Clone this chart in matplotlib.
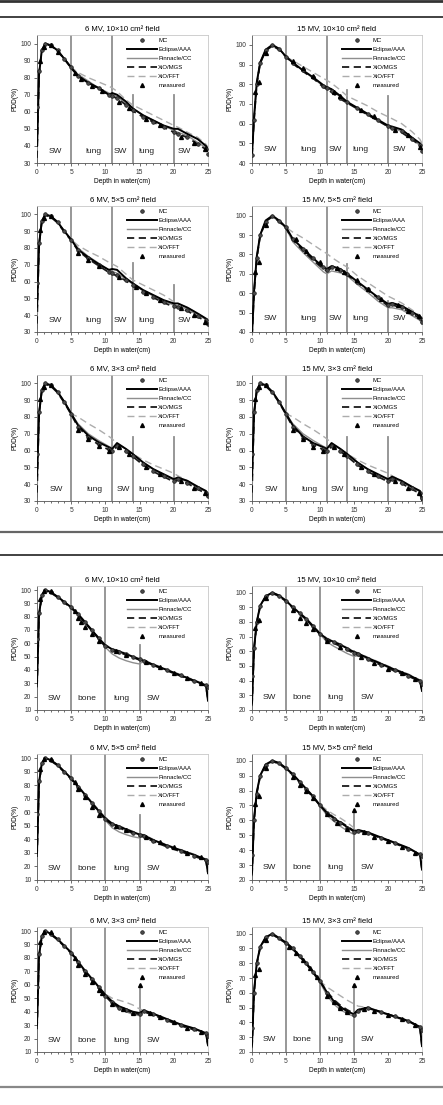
"""PDD curves in heterogeneous slab phantoms: MC vs. TPS algorithms."""

import matplotlib

matplotlib.use("Agg", force=True)
import matplotlib.pyplot as plt
from matplotlib.lines import Line2D
from matplotlib.ticker import MultipleLocator

plt.rcParams["font.family"] = ["Liberation Sans", "DejaVu Sans"]

W, H = 443, 1105

# depth grids (cm)
DEPTH_A = [0, 0.3, 0.7, 1.2, 2, 3, 4, 5, 6, 7.5, 9, 10.5, 11, 11.7, 13, 14,
           15.5, 17, 18.5, 20, 20.6, 22, 23.5, 24.7, 25]
DEPTH_B = [0, 0.3, 0.7, 1.2, 2, 3, 4, 5, 6, 7, 8, 9, 10, 11, 12, 13, 14, 15,
           15.6, 17, 19, 21, 23, 24.7, 25]

# ---- SW / lung / SW / lung / SW phantom ----
P1_MC = [63, 84, 96, 100, 99, 96, 91, 86, 81, 77, 74, 70, 69, 68, 64, 61, 57, 54, 51, 48, 47, 45, 41, 38, 35]
P1_AAA = [40, 82, 96, 100, 99, 96, 91, 86, 81, 77, 74, 70, 71, 70, 66, 62, 58, 55, 52, 50, 50, 47, 44, 40, 38]
P1_CC = [35, 83, 96, 100, 99, 96, 91, 86, 82, 78, 74, 71, 70, 69, 65, 62, 58, 55, 52, 49, 48, 46, 42, 39, 37]
P1_MGS = [33, 82, 96, 99.5, 99, 95.5, 91, 85.5, 81, 77, 73.5, 70, 69, 68, 64, 60.5, 57, 54, 51, 48, 47, 45, 41, 38, 34]
P1_FFT = [30, 82, 96, 100, 99, 96, 91, 86, 83, 80, 77.5, 75, 74, 72, 67, 64, 61, 58, 55, 52, 51, 48, 45, 41, 39]
P1_MEAS_X = [0.5, 1, 2, 3, 5.5, 6.5, 8, 9.5, 12, 13.5, 16, 18, 21, 23, 24.5]
P1_MEAS_Y = [90, 98, 99, 95, 83, 79, 75, 72, 66, 62, 56, 52, 45, 42, 38]

P2_MC = [44, 62, 80, 91, 97.5, 100, 98, 94, 91, 87, 83.5, 79, 78, 76.5, 73, 71, 68, 65, 62, 59, 58, 56, 52, 49, 46]
P2_AAA = [44, 63, 81, 91, 97.5, 100, 98, 94, 91, 87, 83.5, 79.5, 78.5, 77.5, 74, 71, 68, 65, 62, 59, 58.5, 57, 53, 50, 48]
P2_CC = [45, 63, 80, 91, 97, 99.5, 98, 94, 91, 87, 83, 79, 78, 77, 73.5, 71, 67.5, 64.5, 61.5, 58.5, 58, 56, 52, 49, 46]
P2_MGS = [44, 62, 80, 90.5, 97, 99.5, 97.5, 94, 90.5, 86.5, 83, 78.5, 77.5, 76, 72.5, 70.5, 67.5, 64.5, 61.5, 58.5, 57.5, 55.5, 52, 49, 47]
P2_FFT = [44, 62, 80, 91, 97.5, 100, 98, 94, 92, 89, 86, 83, 82, 80.5, 77, 74, 71.5, 69, 66, 63.5, 62.5, 60, 56, 52, 50]
P2_MEAS_X = [0.5, 1, 2, 6, 7.5, 9, 12, 13, 16, 18, 21, 23, 24.7]
P2_MEAS_Y = [76, 81, 96, 92, 88, 84, 76, 74, 67, 64, 57, 54, 48]

P3_MC = [59, 83, 96, 100, 99, 95.5, 90, 85, 79, 74, 70, 66, 65, 64, 61, 58, 54, 51, 48, 45.5, 45, 43, 39.5, 37, 35]
P3_AAA = [45, 82, 96, 100, 99, 95.5, 90, 85, 79, 74.5, 70.5, 67, 67.5, 67, 62, 59, 55, 52, 49, 47, 47, 44.5, 41, 38, 37]
P3_CC = [40, 82, 96, 100, 99, 95.5, 90, 85, 80, 75, 71, 67, 66, 65, 61.5, 58.5, 54.5, 51.5, 48.5, 46, 45.5, 43.5, 40, 37.5, 36]
P3_MGS = [35, 82, 95.5, 99.5, 98.5, 95, 89.5, 84.5, 78.5, 73.5, 69.5, 65.5, 64.5, 63.5, 60.5, 57.5, 53.5, 50.5, 47.5, 45, 44.5, 42.5, 39, 36.5, 34]
P3_FFT = [32, 82, 96, 100, 99, 95.5, 90, 85, 81.5, 78, 75, 71.5, 70.5, 69, 64.5, 61, 58, 55, 52, 48, 47, 44.5, 41, 38, 37]
P3_MEAS_X = [0.5, 1, 2, 6, 7.5, 9, 12, 14.5, 16, 18, 21, 23, 24.5]
P3_MEAS_Y = [91, 98, 99, 77, 73, 69, 63, 57, 53, 49, 44, 40, 36]

P4_MC = [38, 60, 78, 90, 97, 100, 97.5, 94, 88, 83, 78, 73.5, 72, 73.5, 72, 70, 66, 62, 58, 54, 54.5, 53, 50, 47, 45]
P4_AAA = [38, 61, 79, 90, 97.5, 100, 97.5, 94, 88, 83, 78, 73.5, 72.5, 74, 72.5, 70, 66, 62, 58, 54.5, 55, 53.5, 50.5, 48, 46]
P4_CC = [39, 61, 78, 90, 97, 99.5, 97, 93.5, 86.5, 81, 76, 71, 70, 71.5, 70.5, 69, 64.5, 60.5, 56, 52.5, 52.5, 51.5, 48.5, 46, 44]
P4_MGS = [38, 60, 78, 89.5, 97, 99.5, 97, 93.5, 87.5, 82, 77, 72.5, 71.5, 73, 71.5, 69.5, 65.5, 61.5, 57.5, 53.5, 54, 52.5, 49.5, 47, 45]
P4_FFT = [38, 60, 78, 90, 97, 100, 97.5, 94, 91.5, 88.5, 85, 81.5, 80.5, 78.5, 75.5, 73.5, 69, 65.5, 62, 58.5, 57.5, 55, 51.5, 48.5, 46]
P4_MEAS_X = [0.5, 1, 2, 6.5, 8, 10, 12.5, 13.5, 15.5, 17, 19, 21.5, 23, 24.5]
P4_MEAS_Y = [71, 76, 95, 88, 82, 76, 73, 71, 67, 62, 57, 54, 51, 48]

P5_MC = [58, 83, 96, 100, 99, 95, 89, 82, 74, 68, 64, 61, 60, 63, 60, 57, 52, 48, 45, 42, 43, 41, 37.5, 35, 33]
P5_AAA = [45, 82, 96, 100, 99, 95, 89, 82, 75, 69, 65, 62, 61, 64.5, 61, 58, 53, 49, 46, 43, 44, 42, 38.5, 36, 34]
P5_CC = [40, 82, 96, 100, 99, 95, 89, 82, 76, 70, 66, 62.5, 61.5, 64, 61, 58, 53, 49, 45.5, 42.5, 43.5, 41.5, 38, 35.5, 33]
P5_MGS = [35, 82, 95.5, 99.5, 98.5, 94.5, 88.5, 81.5, 74, 68, 63.5, 60.5, 59.5, 62.5, 59.5, 56.5, 51.5, 47.5, 44.5, 41.5, 42.5, 40.5, 37, 34.5, 32]
P5_FFT = [32, 82, 96, 100, 99, 95, 89, 82, 80, 76, 72.5, 68.5, 67, 64, 60.5, 58, 54.5, 51.5, 49, 46.5, 45, 42, 38.5, 35.5, 34]
P5_MEAS_X = [0.5, 1, 2, 6, 7.5, 9, 10.5, 12, 13.5, 16, 18, 21, 23, 24.5]
P5_MEAS_Y = [91, 98, 99, 72, 67, 63, 60, 62, 58, 50, 46, 42, 38, 35]

P6_MC = [58, 83, 96, 100, 99, 95, 89, 82, 74, 67.5, 63.5, 61, 59.5, 63, 60, 57, 52, 48, 45, 42, 43, 41, 37.5, 35, 32]
P6_AAA = [45, 82, 96, 100, 99, 95, 89, 82, 75, 68.5, 64.5, 62, 61, 64.5, 61, 58, 53, 49, 46, 43, 44.5, 42, 38.5, 36, 33]
P6_CC = [40, 82, 96, 100, 99, 95, 89, 82, 76, 70, 66, 62.5, 61.5, 64, 61, 58, 53, 49, 45.5, 42.5, 43.5, 41.5, 38, 35.5, 33]
P6_MGS = [35, 82, 95.5, 99.5, 98.5, 94.5, 88.5, 81.5, 74, 68, 63.5, 60.5, 59.5, 62.5, 59.5, 56.5, 51.5, 47.5, 44.5, 41.5, 42.5, 40.5, 37, 34.5, 30]
P6_FFT = [32, 82, 96, 100, 99, 95, 89, 82, 80, 76, 72.5, 68.5, 67, 64.5, 60.5, 58, 54.5, 51.5, 49, 46.5, 45, 42, 38.5, 35.5, 34]
P6_MEAS_X = [0.5, 1, 2, 6, 7.5, 9, 10.5, 12, 13.5, 16, 18, 21, 23, 24.5]
P6_MEAS_Y = [91, 98, 99, 72, 67, 62, 60, 62, 58, 50, 46, 42, 38, 35]

# ---- SW / bone / lung / SW phantom ----
P7_MC = [63, 83, 96, 100, 98.5, 95, 91, 87, 82, 76, 70, 64, 58, 55, 53.5, 52, 50, 48, 47, 44, 40, 36, 32, 29, 27]
P7_AAA = [30, 82, 96, 100, 98.5, 95, 91, 87, 82, 76, 70, 64, 58.5, 55.5, 54, 52, 50, 48, 47, 44, 40, 36, 32, 28.5, 17]
P7_CC = [28, 82, 96, 100, 98.5, 95, 91, 87, 82, 76, 70, 64, 57, 52, 49, 47, 45.5, 44.5, 47, 44, 40, 36, 32, 28.5, 20]
P7_MGS = [27, 81, 95.5, 99.5, 98, 94.5, 90.5, 86.5, 81.5, 75.5, 69.5, 63.5, 57.5, 54.5, 53, 51.5, 49.5, 47.5, 46.5, 43.5, 39.5, 35.5, 31.5, 28, 18]
P7_FFT = [27, 82, 96, 100, 98.5, 95, 91, 87, 82, 76.5, 70.5, 64.5, 59, 56, 54.5, 52.5, 50.5, 48.5, 47.5, 44.5, 40.5, 36.5, 32.5, 29, 19]
P7_MEAS_X = [0.5, 1, 2, 5.5, 6, 6.5, 7, 8, 9, 11.5, 13, 16, 18, 20, 22, 24]
P7_MEAS_Y = [93, 99, 99, 84, 79, 76, 72, 67, 62, 54, 51, 46, 42, 38, 34, 30]

P8_MC = [43, 62, 80, 91, 97.5, 100, 98, 94.5, 90, 86, 82, 77, 72, 68, 66, 64, 61.5, 59, 58, 55, 51, 47, 43.5, 40, 38]
P8_AAA = [25, 62, 80, 91, 97.5, 100, 98, 94.5, 90, 86, 82, 77, 72, 68.5, 66.5, 64.5, 62, 59.5, 58.5, 55.5, 51.5, 47.5, 44, 40, 33]
P8_CC = [24, 62, 80, 91, 97.5, 100, 98, 94.5, 90, 86, 82, 77, 71.5, 66.5, 63.5, 61, 58.5, 56.5, 57, 55, 51, 47, 43.5, 39.5, 34]
P8_MGS = [23, 61, 79.5, 90.5, 97, 99.5, 97.5, 94, 89.5, 85.5, 81.5, 76.5, 71.5, 67.5, 65.5, 63.5, 61, 58.5, 57.5, 54.5, 50.5, 46.5, 43, 39.5, 34]
P8_FFT = [22, 62, 80, 91, 97.5, 100, 98, 94.5, 90.5, 86.5, 82.5, 77.5, 72.5, 69, 67, 65, 62.5, 60, 59, 56, 52, 48, 44.5, 40.5, 35]
P8_MEAS_X = [0.5, 1, 2, 6, 7, 8, 9, 11, 13, 16, 18, 20, 22, 24]
P8_MEAS_Y = [76, 81, 96, 88, 83, 79, 75, 67, 63, 56, 52, 48, 45, 41]

P9_MC = [59, 83, 96, 100, 98.5, 95, 90, 85, 79, 73, 67, 61, 55, 51, 49, 47, 45, 43, 42.5, 39, 35, 31.5, 28, 25, 23]
P9_AAA = [30, 82, 96, 100, 98.5, 95, 90, 85, 79, 73, 67, 61, 55.5, 51.5, 49.5, 47.5, 45.5, 43.5, 43, 39.5, 35.5, 32, 28.5, 25, 15]
P9_CC = [28, 82, 96, 100, 98.5, 95, 90, 85, 79.5, 73.5, 67.5, 61.5, 54, 48.5, 45.5, 43.5, 42, 41, 43, 39.5, 35.5, 32, 28.5, 25, 16]
P9_MGS = [27, 81, 95.5, 99.5, 98, 94.5, 89.5, 84.5, 78.5, 72.5, 66.5, 60.5, 54.5, 50.5, 48.5, 46.5, 44.5, 42.5, 42, 38.5, 34.5, 31, 27.5, 24.5, 15]
P9_FFT = [27, 82, 96, 100, 98.5, 95, 90, 85, 79.5, 73.5, 67.5, 62, 56, 52, 50, 48, 46, 44, 43.5, 40, 36, 32.5, 29, 25.5, 16]
P9_MEAS_X = [0.5, 1, 2, 5.5, 6, 7, 8, 9, 11.5, 13, 16, 18, 20, 22, 24]
P9_MEAS_Y = [92, 99, 99, 82, 77, 71, 64, 58, 50, 47, 42, 38, 34, 30, 27]

P10_MC = [37, 60, 78, 90, 97, 100, 98.5, 95, 91, 86, 81, 76, 70, 65, 61, 58, 55, 52, 53, 51.5, 48, 44.5, 41, 37.5, 36]
P10_AAA = [25, 61, 79, 90, 97.5, 100, 98.5, 95, 91, 86, 81, 76, 70, 65, 61.5, 58.5, 55.5, 52.5, 53.5, 52, 48.5, 45, 41.5, 37, 27]
P10_CC = [24, 60, 78, 90, 97, 99.5, 98, 94.5, 90.5, 85.5, 80.5, 75.5, 69.5, 63.5, 59.5, 56, 53, 50.5, 52.5, 51.5, 48, 44.5, 41, 37, 28]
P10_MGS = [23, 60, 78, 89.5, 97, 99.5, 98, 94.5, 90.5, 85.5, 80.5, 75.5, 70, 65.5, 62, 59, 56, 53, 53.5, 51.5, 48, 44.5, 41, 37, 27]
P10_FFT = [22, 60, 78, 90, 97, 100, 98.5, 95, 91, 86, 81, 76, 70.5, 67, 64, 61.5, 58.5, 55, 54, 52, 48.5, 45, 41.5, 37.5, 28]
P10_MEAS_X = [0.5, 1, 2, 6, 7, 8, 9, 11, 12.5, 14, 15, 16.5, 18, 20, 22, 24]
P10_MEAS_Y = [71, 76, 95, 89, 84, 80, 75, 64, 58, 54, 67, 52, 49, 46, 42, 38]

P11_MC = [58, 83, 96, 100, 98, 94, 89, 84, 77, 70, 64, 58, 52, 47, 43, 41, 39, 38, 40.5, 38, 34, 30, 27, 24, 22]
P11_AAA = [30, 82, 96, 100, 98, 94, 89, 84, 77, 70.5, 64.5, 58.5, 52.5, 47.5, 44, 42, 40, 39, 41, 38.5, 34.5, 30.5, 27.5, 24, 15]
P11_CC = [28, 82, 96, 100, 98, 94, 89, 84, 77.5, 71, 65, 59, 52, 46, 42, 40, 38, 37, 40, 38, 34, 30, 27, 23.5, 16]
P11_MGS = [27, 81, 95.5, 99.5, 97.5, 93.5, 88.5, 83.5, 76.5, 69.5, 63.5, 57.5, 51.5, 46.5, 43, 41, 39, 38, 40, 37.5, 33.5, 29.5, 26.5, 23.5, 15]
P11_FFT = [27, 82, 96, 100, 98, 94, 89, 84, 77.5, 71, 65, 59, 53, 50, 48.5, 47, 45, 42, 41, 38.5, 34.5, 30.5, 27.5, 24, 16]
P11_MEAS_X = [0.5, 1, 2, 5.5, 6, 7, 8, 9, 9.5, 11, 12.5, 14, 15, 16.5, 18, 20, 22, 24]
P11_MEAS_Y = [92, 99, 99, 80, 75, 68, 62, 56, 54, 46, 42, 39, 60, 39, 36, 32, 28, 25]

P12_MC = [36, 60, 80, 91, 97.5, 100, 97, 94, 90, 85, 80, 74, 68, 60, 54, 50, 47, 45, 48, 50, 47, 44, 41, 37, 35]
P12_AAA = [25, 61, 80, 91, 97.5, 100, 97, 94, 90, 85, 80, 74, 68, 60.5, 54.5, 50.5, 47.5, 45.5, 48.5, 50, 47, 44, 41, 37, 24]
P12_CC = [24, 60, 79.5, 91, 97.5, 99.5, 96.5, 93.5, 89.5, 84.5, 79.5, 73.5, 67, 58.5, 52.5, 48.5, 46, 44, 47.5, 49.5, 46.5, 43.5, 40.5, 36.5, 25]
P12_MGS = [23, 60, 79.5, 90.5, 97, 99.5, 96.5, 93.5, 89.5, 84.5, 79.5, 73.5, 67.5, 61, 55.5, 51.5, 48.5, 46, 48.5, 50, 47, 44, 41, 36.5, 24]
P12_FFT = [22, 60, 80, 91, 97.5, 100, 97, 94, 90, 85, 80, 74, 68, 64, 61, 58, 55, 52.5, 51, 50, 47, 44, 41, 37, 25]
P12_MEAS_X = [0.5, 1, 2, 5.5, 6.5, 7.5, 8.5, 9.5, 11, 12, 13, 14, 15, 16.5, 18, 20, 22, 24]
P12_MEAS_Y = [72, 76, 96, 91, 87, 82, 77, 71, 58, 54, 50, 47, 65, 49, 48, 45, 42, 38]

TITLES = [
    "6 MV, 10\u00d710 cm\u00b2 field", "15 MV, 10\u00d710 cm\u00b2 field",
    "6 MV, 5\u00d75 cm\u00b2 field", "15 MV, 5\u00d75 cm\u00b2 field",
    "6 MV, 3\u00d73 cm\u00b2 field", "15 MV, 3\u00d73 cm\u00b2 field",
] * 2

REGIONS_A = ["SW", "lung", "SW", "lung", "SW"]
REGIONS_A_SHORT = ["SW", "lung", "SW", "lung"]
REGIONS_B = ["SW", "bone", "lung", "SW"]

LEGEND = ["MC", "Eclipse/AAA", "Pinnacle/CC", "XiO/MGS", "XiO/FFT", "measured"]

FS_TICK = 4.8
FS_TITLE = 5.6
FS_REGION = 6.0
FS_LEG = 4.3


def _rect(l, r, t, b):
    return [l / W, 1 - b / H, (r - l) / W, (b - t) / H]


def _panel(fig, rect, title, depth, curves, meas, ylim, ymin_tick, full_lines,
           part_lines, regions, region_x, region_y):
    ax = fig.add_axes(rect)
    mc, aaa, cc, mgs, fft = curves
    for x in full_lines:
        ax.axvline(x, color="#8f8f8f", lw=1.3, zorder=1)
    for x, top in part_lines:
        ax.plot([x, x], [ylim[0], top], color="#8f8f8f", lw=1.3, zorder=1)

    ax.plot(depth, fft, color="#acacac", lw=1.0, ls=(0, (5, 3)), zorder=2)
    ax.plot(depth, cc, color="#8e8e8e", lw=1.0, zorder=3)
    ax.plot(depth, mgs, color="#1a1a1a", lw=1.3, ls=(0, (4, 2.5)), zorder=4)
    ax.plot(depth, aaa, color="black", lw=1.4, zorder=5)
    ax.plot(depth, mc, ls="none", marker="o", ms=2.6, mfc="#4a4a4a",
            mec="#1a1a1a", mew=0.5, zorder=6)
    ax.plot(meas[0], meas[1], ls="none", marker="^", ms=2.8, color="black",
            zorder=7)

    for lab, x in zip(regions, region_x):
        ax.text(x, region_y, lab, fontsize=FS_REGION, ha="center",
                va="center", color="#222222")

    ax.set_xlim(0, 25)
    ax.set_ylim(*ylim)
    ax.xaxis.set_major_locator(MultipleLocator(5))
    ax.xaxis.set_minor_locator(MultipleLocator(1))
    ax.set_yticks(range(ymin_tick, 101, 10))
    ax.tick_params(labelsize=FS_TICK, length=2, width=0.5, pad=2,
                   colors="#333333")
    ax.tick_params(axis="x", which="minor", length=1.2, width=0.4)
    for side in ("top", "right"):
        ax.spines[side].set_color("#c8c8c8")
        ax.spines[side].set_linewidth(0.6)
    for side in ("left", "bottom"):
        ax.spines[side].set_color("#555555")
        ax.spines[side].set_linewidth(0.6)
    ax.set_title(title, fontsize=FS_TITLE, pad=2.5)
    ax.set_xlabel("Depth in water(cm)", fontsize=FS_TICK, labelpad=1.5)
    ax.set_ylabel("PDD(%)", fontsize=FS_TICK, labelpad=1.5)

    handles = [
        Line2D([], [], ls="none", marker="o", ms=2.6, mfc="#4a4a4a",
               mec="#1a1a1a", mew=0.5),
        Line2D([], [], color="black", lw=1.4),
        Line2D([], [], color="#8e8e8e", lw=1.0),
        Line2D([], [], color="#1a1a1a", lw=1.3, ls=(0, (4, 2.5))),
        Line2D([], [], color="#acacac", lw=1.0, ls=(0, (5, 3))),
        Line2D([], [], ls="none", marker="^", ms=2.8, color="black"),
    ]
    ax.legend(handles, LEGEND, loc="upper left", bbox_to_anchor=(0.52, 0.99),
              frameon=False, fontsize=FS_LEG, handlelength=5.0,
              handletextpad=0.2, labelspacing=0.65, borderpad=0.2,
              borderaxespad=0, numpoints=1)
    return ax


fig = plt.figure(figsize=(W / 100, H / 100), dpi=100)

COL_L = (37, 208)
COL_R = (252, 422)
ROWS = [(35, 163), (206, 332), (375, 501), (586, 710), (754, 880), (927, 1052)]

data_a = [
    (P1_MC, P1_AAA, P1_CC, P1_MGS, P1_FFT, P1_MEAS_X, P1_MEAS_Y),
    (P2_MC, P2_AAA, P2_CC, P2_MGS, P2_FFT, P2_MEAS_X, P2_MEAS_Y),
    (P3_MC, P3_AAA, P3_CC, P3_MGS, P3_FFT, P3_MEAS_X, P3_MEAS_Y),
    (P4_MC, P4_AAA, P4_CC, P4_MGS, P4_FFT, P4_MEAS_X, P4_MEAS_Y),
    (P5_MC, P5_AAA, P5_CC, P5_MGS, P5_FFT, P5_MEAS_X, P5_MEAS_Y),
    (P6_MC, P6_AAA, P6_CC, P6_MGS, P6_FFT, P6_MEAS_X, P6_MEAS_Y),
]
data_b = [
    (P7_MC, P7_AAA, P7_CC, P7_MGS, P7_FFT, P7_MEAS_X, P7_MEAS_Y),
    (P8_MC, P8_AAA, P8_CC, P8_MGS, P8_FFT, P8_MEAS_X, P8_MEAS_Y),
    (P9_MC, P9_AAA, P9_CC, P9_MGS, P9_FFT, P9_MEAS_X, P9_MEAS_Y),
    (P10_MC, P10_AAA, P10_CC, P10_MGS, P10_FFT, P10_MEAS_X, P10_MEAS_Y),
    (P11_MC, P11_AAA, P11_CC, P11_MGS, P11_FFT, P11_MEAS_X, P11_MEAS_Y),
    (P12_MC, P12_AAA, P12_CC, P12_MGS, P12_FFT, P12_MEAS_X, P12_MEAS_Y),
]

# partial interface lines (x, top) for each panel
PART_A = [[(14, 70), (20, 70)], [(14, 77), (20, 74)], [(14, 71), (20, 58)],
          [(14, 75), (20, 56)], [(14, 68), (20, 68)], [(14, 68), (20, 68)]]
PART_B = [[(15, 59)], [(15, 60)], [(15, 58)], [(15, 67)], [(15, 60)], [(15, 65)]]

for i, d in enumerate(data_a):
    col = COL_L if i % 2 == 0 else COL_R
    row = ROWS[i // 2]
    is6 = i % 2 == 0
    ymin = 30 if (is6 or i == 5) else 40
    regions = REGIONS_A if i < 4 else REGIONS_A_SHORT
    rx = [2.7, 8.3, 12.2, 16.0, 21.6] if i < 4 else [2.8, 8.4, 12.6, 16.0]
    _panel(fig, _rect(col[0], col[1], row[0], row[1]), TITLES[i], DEPTH_A,
           d[:5], (d[5], d[6]), (ymin, 105), ymin, [5, 11], PART_A[i],
           regions, rx, ymin + 7)

for i, d in enumerate(data_b):
    col = COL_L if i % 2 == 0 else COL_R
    row = ROWS[3 + i // 2]
    is6 = i % 2 == 0
    ymin = 10 if is6 else 20
    ytop = 103 if is6 else 104.5
    _panel(fig, _rect(col[0], col[1], row[0], row[1]), TITLES[6 + i], DEPTH_B,
           d[:5], (d[5], d[6]), (ymin, ytop), ymin, [5, 10], PART_B[i],
           REGIONS_B, [2.6, 7.3, 12.3, 17.0], ymin + 8.5)

# separator rules
for y, lw, c in [(1, 2.0, "#333333"), (17, 1.3, "#333333"),
                 (531.5, 1.6, "#666666"), (555, 1.3, "#333333"),
                 (1087, 1.6, "#888888")]:
    fig.add_artist(Line2D([0, 1], [1 - y / H, 1 - y / H], color=c, lw=lw,
                          transform=fig.transFigure))

fig.savefig("out.png", dpi=100)
